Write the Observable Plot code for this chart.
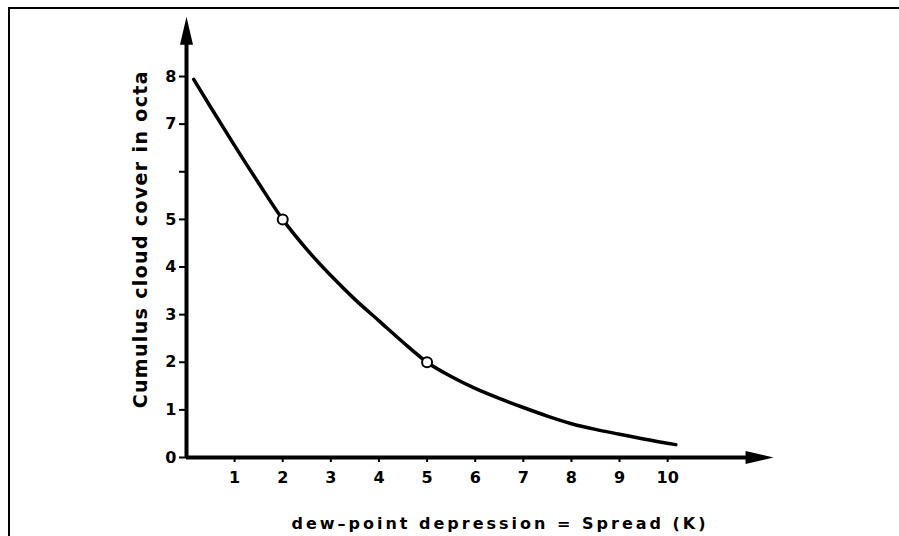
<!DOCTYPE html>
<html>
<head>
<meta charset="utf-8">
<script src="https://cdn.jsdelivr.net/npm/d3@7"></script>
<script src="https://cdn.jsdelivr.net/npm/@observablehq/plot@0.6"></script>
<style>
  html, body { margin: 0; padding: 0; background: #fff; }
  #wrap { position: relative; width: 899px; height: 536px; overflow: hidden; }
  #border { position: absolute; left: 8px; top: 7px; right: -10px; bottom: -10px;
            border-top: 2px solid #000; border-left: 2px solid #000; pointer-events: none; }
  svg { font-family: "DejaVu Sans", sans-serif; }
</style>
</head>
<body>
<div id="wrap"><div id="border"></div></div>
<script>
// Curve: dew-point spread (K) vs cumulus cover (octa)
const spread = [0.15, 0.5, 1, 1.5, 2, 2.5, 3, 3.5, 4, 4.5, 5, 5.5, 6, 6.5, 7, 7.5, 8, 8.5, 9, 9.5, 10.17];
const cover  = [7.94, 7.36, 6.55, 5.76, 5.0, 4.37, 3.82, 3.32, 2.87, 2.42, 2.0, 1.7, 1.45, 1.24, 1.05, 0.87, 0.71, 0.59, 0.49, 0.39, 0.27];
// Marked points on the curve
const markedSpread = [2, 5];
const markedCover  = [5, 2];
// Axis ticks and labels
const xTicks = [1, 2, 3, 4, 5, 6, 7, 8, 9, 10];
const yTicks = [0, 1, 2, 3, 4, 5, 6, 7, 8];
const yTickLabels = ["0", "1", "2", "3", "4", "5", "", "7", "8"];
const xMax = 12.2;   // end of x arrow
const yMax = 9.25;   // end of y arrow
const xTitle = "dew\u2013point depression = Spread (K)";
const yTitle = "Cumulus cloud cover in octa";

const curve = spread.map((s, i) => ({s, c: cover[i]}));
const marked = markedSpread.map((s, i) => ({s, c: markedCover[i]}));

// filled, elongated arrowhead pointing up (rotated by the dot mark)
const arrowHead = {
  draw(ctx, size) {
    const L = 28, w = 6.5;
    ctx.moveTo(0, -L / 2);
    ctx.lineTo(w, L / 2);
    ctx.lineTo(-w, L / 2);
    ctx.closePath();
  }
};

const chart = Plot.plot({
  width: 899,
  height: 536,
  marginLeft: 186,
  marginRight: 126,
  marginTop: 16.5,
  marginBottom: 79,
  style: {fontFamily: "'DejaVu Sans', sans-serif", background: "transparent", overflow: "visible"},
  x: {domain: [0, xMax]},
  y: {domain: [0, yMax]},
  marks: [
    Plot.axisX({ticks: xTicks, tickSize: 5, tickPadding: 9, fontWeight: "bold",
                strokeWidth: 2, label: null, tickFormat: d => String(d)}),
    Plot.axisY({ticks: yTicks, tickSize: 7, tickPadding: 3, fontWeight: "bold",
                strokeWidth: 2, label: null, tickFormat: d => yTickLabels[yTicks.indexOf(d)]}),
    Plot.ruleY([0], {x1: 0, x2: xMax - 0.3, strokeWidth: 4, stroke: "#000"}),
    Plot.ruleX([0], {y1: 0, y2: yMax - 0.3, strokeWidth: 4, stroke: "#000"}),
    Plot.dot([{s: xMax - 0.29, c: 0}], {x: "s", y: "c", symbol: arrowHead, rotate: 90, fill: "#000", stroke: "none", r: 10}),
    Plot.dot([{s: 0, c: yMax - 0.29}], {x: "s", y: "c", symbol: arrowHead, rotate: 0, fill: "#000", stroke: "none", r: 10}),
    Plot.line(curve, {x: "s", y: "c", curve: "monotone-x", stroke: "#000", strokeWidth: 3.5}),
    Plot.dot(marked, {x: "s", y: "c", r: 5, fill: "#fff", stroke: "#000", strokeWidth: 2}),
    Plot.text([yTitle], {frameAnchor: "left", rotate: -90, textAnchor: "middle", lineAnchor: "middle",
                         dx: -46, dy: 2, fontSize: 19, fontWeight: "bold", fill: "#000"}),
    Plot.text([xTitle], {frameAnchor: "bottom", textAnchor: "middle", lineAnchor: "middle",
                         dx: 20, dy: 66, fontSize: 16, fontWeight: "bold", fill: "#000"})
  ]
});

document.getElementById("wrap").prepend(chart);

// typography as in the printed figure: larger tick numerals, letter-spaced titles
d3.select(chart).selectAll("text").each(function() {
  const t = this.textContent;
  if (t === yTitle) d3.select(this).style("letter-spacing", "1.35px");
  else if (t === xTitle) d3.select(this).style("letter-spacing", "3px");
});
d3.select(chart).selectAll("g[aria-label$='tick label']")
  .style("font-size", "16px").attr("font-size", 16);
</script>
</body>
</html>
